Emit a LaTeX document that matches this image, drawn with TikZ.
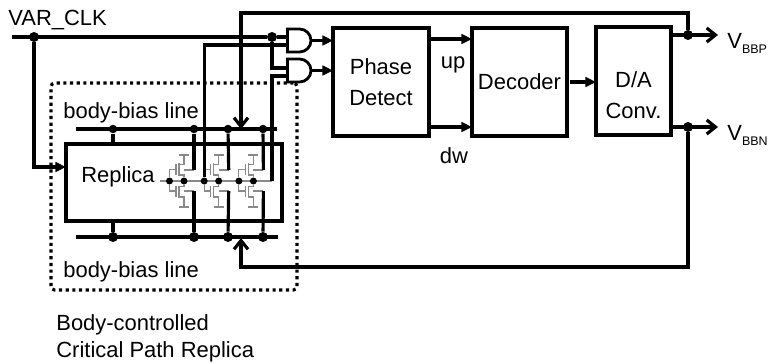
\documentclass[tikz,border=0pt]{standalone}
\usepackage{fontspec}
\setmainfont{Liberation Sans}
\usetikzlibrary{arrows.meta}
\definecolor{trans}{HTML}{8A8A8A}
\newcommand{\vsub}[1]{V\raisebox{-3pt}{\fontsize{7.1}{8}\selectfont #1}}

\begin{document}
\begin{tikzpicture}[
  x=0.02cm, y=-0.02cm,
  font=\fontsize{12.5}{17.4}\selectfont,
  block/.style={draw, line width=1.8pt, inner sep=0pt, outer sep=0pt, align=center},
  gatebox/.style={inner sep=0pt, outer sep=0pt, minimum height=0.46cm, minimum width=0.46cm},
  wire/.style={line width=1.8pt},
  flecha/.style={wire, -{Stealth[length=6pt, width=5.4pt, inset=0pt]}},
  barb/.style={wire, -{Straight Barb[length=5pt, width=8pt, line width=1.8pt]}},
  punto/.style={circle, fill=black, inner sep=0pt, minimum size=0.2cm},
  puntito/.style={circle, fill=black, inner sep=0pt, minimum size=0.14cm},
  etiq/.style={inner sep=0pt, align=center},
  trans/.style={draw=trans, line width=0.6pt}
]
  \useasboundingbox (0,0) rectangle (771,362);

  % free ends
  \coordinate (clkin) at (12,37);
  \coordinate (repin) at (66,167);
  \coordinate (and1b) at (287,45);
  \coordinate (and2a) at (287,68);
  \coordinate (and2b) at (287,76);
  \coordinate (fbtop) at (241,13);
  \coordinate (fbp) at (241,129);
  \coordinate (fbbot) at (241,267);
  \coordinate (fbn) at (241,238);
  \coordinate (fbret) at (272,181);
  \coordinate (upy) at (429,39);
  \coordinate (dwy) at (429,127);
  \coordinate (vpend) at (718,35);
  \coordinate (vnend) at (718,127);
  \coordinate (barTl) at (76,129);
  \coordinate (barTr) at (277,129);
  \coordinate (barBl) at (76,237);
  \coordinate (barBr) at (278,237);

  % blocks
  \node[draw, line width=1.8pt, dash pattern=on 1.8pt off 2pt, rounded corners=2pt, minimum width=4.92cm, minimum height=4.14cm, inner sep=0pt, outer sep=0pt] (path) at (174,186.5) {};
  \node[block, minimum width=4.32cm, minimum height=1.54cm] (replica) at (174,182.5) {};
  \node[block, minimum width=1.92cm, minimum height=2.16cm] (phase) at (381,82) {Phase\\Detect};
  \node[block, minimum width=1.9cm, minimum height=2.16cm] (decoder) at (519.5,82) {Decoder};
  \node[block, minimum width=1.5cm, minimum height=2.16cm] (da) at (633.5,81) {};
  \node[gatebox] (and1) at (299,40.5) {};
  \node[gatebox] (and2) at (299,70.5) {};
  \foreach \g in {and1,and2}
    \draw[line width=1.6pt, fill=white] (\g.south west) -- (\g.north west) -- ++(12,0) arc[start angle=90, end angle=-90, radius=0.23cm] -- cycle;

  % labels
  \node[etiq, anchor=west] (clk) at (8,20) {VAR\_CLK};
  \node[etiq, anchor=west] (bbt) at (63,113) {body-bias line};
  \node[etiq, anchor=west] (bbb) at (63,272) {body-bias line};
  \node[etiq, anchor=west] (replab) at (81,177) {Replica};
  \node[etiq] (dalab) at (633.5,95) {D/A\\Conv.};
  \node[etiq] (up) at (453,65) {up};
  \node[etiq] (dw) at (454,156) {dw};
  \node[etiq, anchor=base west] (vbp) at (727,48) {\vsub{BBP}};
  \node[etiq, anchor=base west] (vbn) at (727,140) {\vsub{BBN}};
  \node[etiq, anchor=west, align=left, font=\fontsize{12.5}{15.4}\selectfont] (note) at (56,338.5) {Body-controlled\\Critical Path Replica};

  % body-bias lines
  \draw[wire] (barTl) -- (barTr);
  \draw[wire] (barBl) -- (barBr);
  \foreach \x/\n in {113/a,194/b,228/c,263/d} {
    \node[punto, minimum size=0.17cm] (t\n) at (\x,129) {};
    \node[punto, minimum size=0.2cm] (u\n) at (\x,237) {};
  }
  \draw[wire] (ta) -- (ta |- replica.north);
  \draw[wire] (ua) -- (ua |- replica.south);

  % inverter chain
  \draw[trans] (160,181) -- (fbret);
  \foreach \s/\n/\b in {0/1/b,34.7/2/c,69.4/3/d} {
    \begin{scope}[shift={(\s,0)}]
      \node[puntito] (in\n) at (169.5,181) {};
      \node[puntito] (out\n) at (184,181) {};
      \coordinate (pb\n) at (194,170);
      \coordinate (nb\n) at (194,191);
      \draw[trans] (in\n) |- (176,169.5) (176,164) -- (176,175);
      \draw[trans] (in\n) |- (176,191) (176,186) -- (176,197);
      \draw[trans, line width=0.9pt] (179,163) -- (179,176) (179,186) -- (179,198);
      \draw[trans] (179,164.5) -| (184,155) (179,155) -- (189,155);
      \draw[trans] (179,197) -| (184,207) (179,207) -- (189,207);
      \draw[trans] (179,175) -| (out\n) (179,186.5) -| (out\n);
      \draw[trans] (184,170) -- (pb\n) (184,191) -- (nb\n);
    \end{scope}
    \draw[wire] (t\b) -- (pb\n);
    \draw[wire] (u\b) -- (nb\n);
  }

  % clock
  \node[punto] (clkd1) at (34,37) {};
  \node[punto] (clkd2) at (272,37) {};
  \draw[wire] (clkin) -- (clkd2) -- (clkd2 -| and1.west);
  \draw[flecha] (clkd1) |- (repin);
  \draw[wire] (clkd2) |- (and2a);
  \draw[wire] (in2) |- (and1b);
  \draw[wire] (fbret) |- (and2b);

  % signal path
  \draw[flecha] (and1.east) -- (and1.east -| phase.west);
  \draw[flecha] (and2.east) -- (and2.east -| phase.west);
  \draw[flecha] (upy) -- (upy -| decoder.west);
  \draw[flecha] (dwy) -- (dwy -| decoder.west);
  \draw[flecha, shorten <=1.8pt] (decoder.east) -- (decoder.east -| da.west);

  % bias outputs and feedback
  \node[punto] (dp) at (688,35) {};
  \node[punto] (dn) at (688,127) {};
  \draw[barb] (da.east |- dp) -- (vpend);
  \draw[barb] (da.east |- dn) -- (vnend);
  \draw[barb] (dp) |- (fbtop) -- (fbp);
  \draw[barb] (dn) |- (fbbot) -- (fbn);
\end{tikzpicture}
\end{document}
